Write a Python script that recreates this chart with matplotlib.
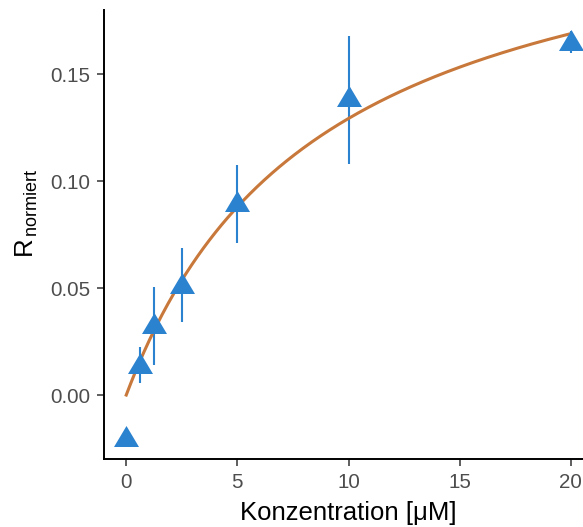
import numpy as np
import matplotlib
matplotlib.use("Agg")
import matplotlib.pyplot as plt

plt.rcParams['font.family'] = ['Liberation Sans', 'DejaVu Sans']
plt.rcParams['mathtext.fontset'] = 'custom'
plt.rcParams['mathtext.rm'] = 'Liberation Sans'
plt.rcParams['mathtext.it'] = 'Liberation Sans:italic'

# data
conc = [0.0, 0.625, 1.25, 2.5, 5.0, 10.0, 20.0]
r_norm = [-0.0201, 0.0140, 0.0327, 0.0514, 0.0897, 0.1390, 0.1650]
r_low = [-0.0201, 0.0056, 0.0140, 0.0340, 0.0710, 0.1080, 0.1600]
r_high = [-0.0201, 0.0224, 0.0505, 0.0687, 0.1075, 0.1680, 0.1700]

# fitted binding curve parameters (one-site model)
bmax = 0.2437
kd = 8.85

xticks = [0, 5, 10, 15, 20]
yticks = [0.00, 0.05, 0.10, 0.15]
ytick_labels = ["0.00", "0.05", "0.10", "0.15"]

blue = "#2b82cf"
orange = "#c8783a"

fig = plt.figure(figsize=(5.83, 5.27), dpi=100)
ax = fig.add_axes([104/583, 1-459/527, (593-104)/583, (459-10)/527])

xf = np.linspace(0, 20, 300)
yf = bmax * xf / (kd + xf)

c = np.array(conc); y = np.array(r_norm)
ax.vlines(c, r_low, r_high, color=blue, lw=1.5, zorder=2)
ax.plot(xf, yf, color=orange, lw=2.2, zorder=3)
tri = [(-1, -0.68), (1, -0.68), (0, 1.0), (-1, -0.68)]
ax.plot(c, y, linestyle='none', marker=tri, ms=18, color=blue,
        markeredgewidth=0, zorder=4)

ax.set_xlim(-1, 21)
ax.set_ylim(-0.0299, 0.18)
ax.set_xticks(xticks)
ax.set_yticks(yticks)
ax.set_yticklabels(ytick_labels)

for s in ['top', 'right']:
    ax.spines[s].set_visible(False)
for s in ['left', 'bottom']:
    ax.spines[s].set_linewidth(1.4)
    ax.spines[s].set_color('black')
ax.tick_params(axis='both', colors='#333333', labelcolor='#4d4d4d',
               labelsize=14.8, length=5, width=1.1)
ax.tick_params(axis='x', pad=5)
ax.tick_params(axis='y', pad=5)

ax.set_xlabel("Konzentration [μM]", fontsize=18.5, color='black')
ax.xaxis.set_label_coords(0.5, -0.0935)
ax.set_ylabel(r"R$_{\,\mathrm{normiert}}$", fontsize=18.5, color='black')
ax.yaxis.set_label_coords(-0.13, 0.548)

fig.savefig("out.png", dpi=100)
